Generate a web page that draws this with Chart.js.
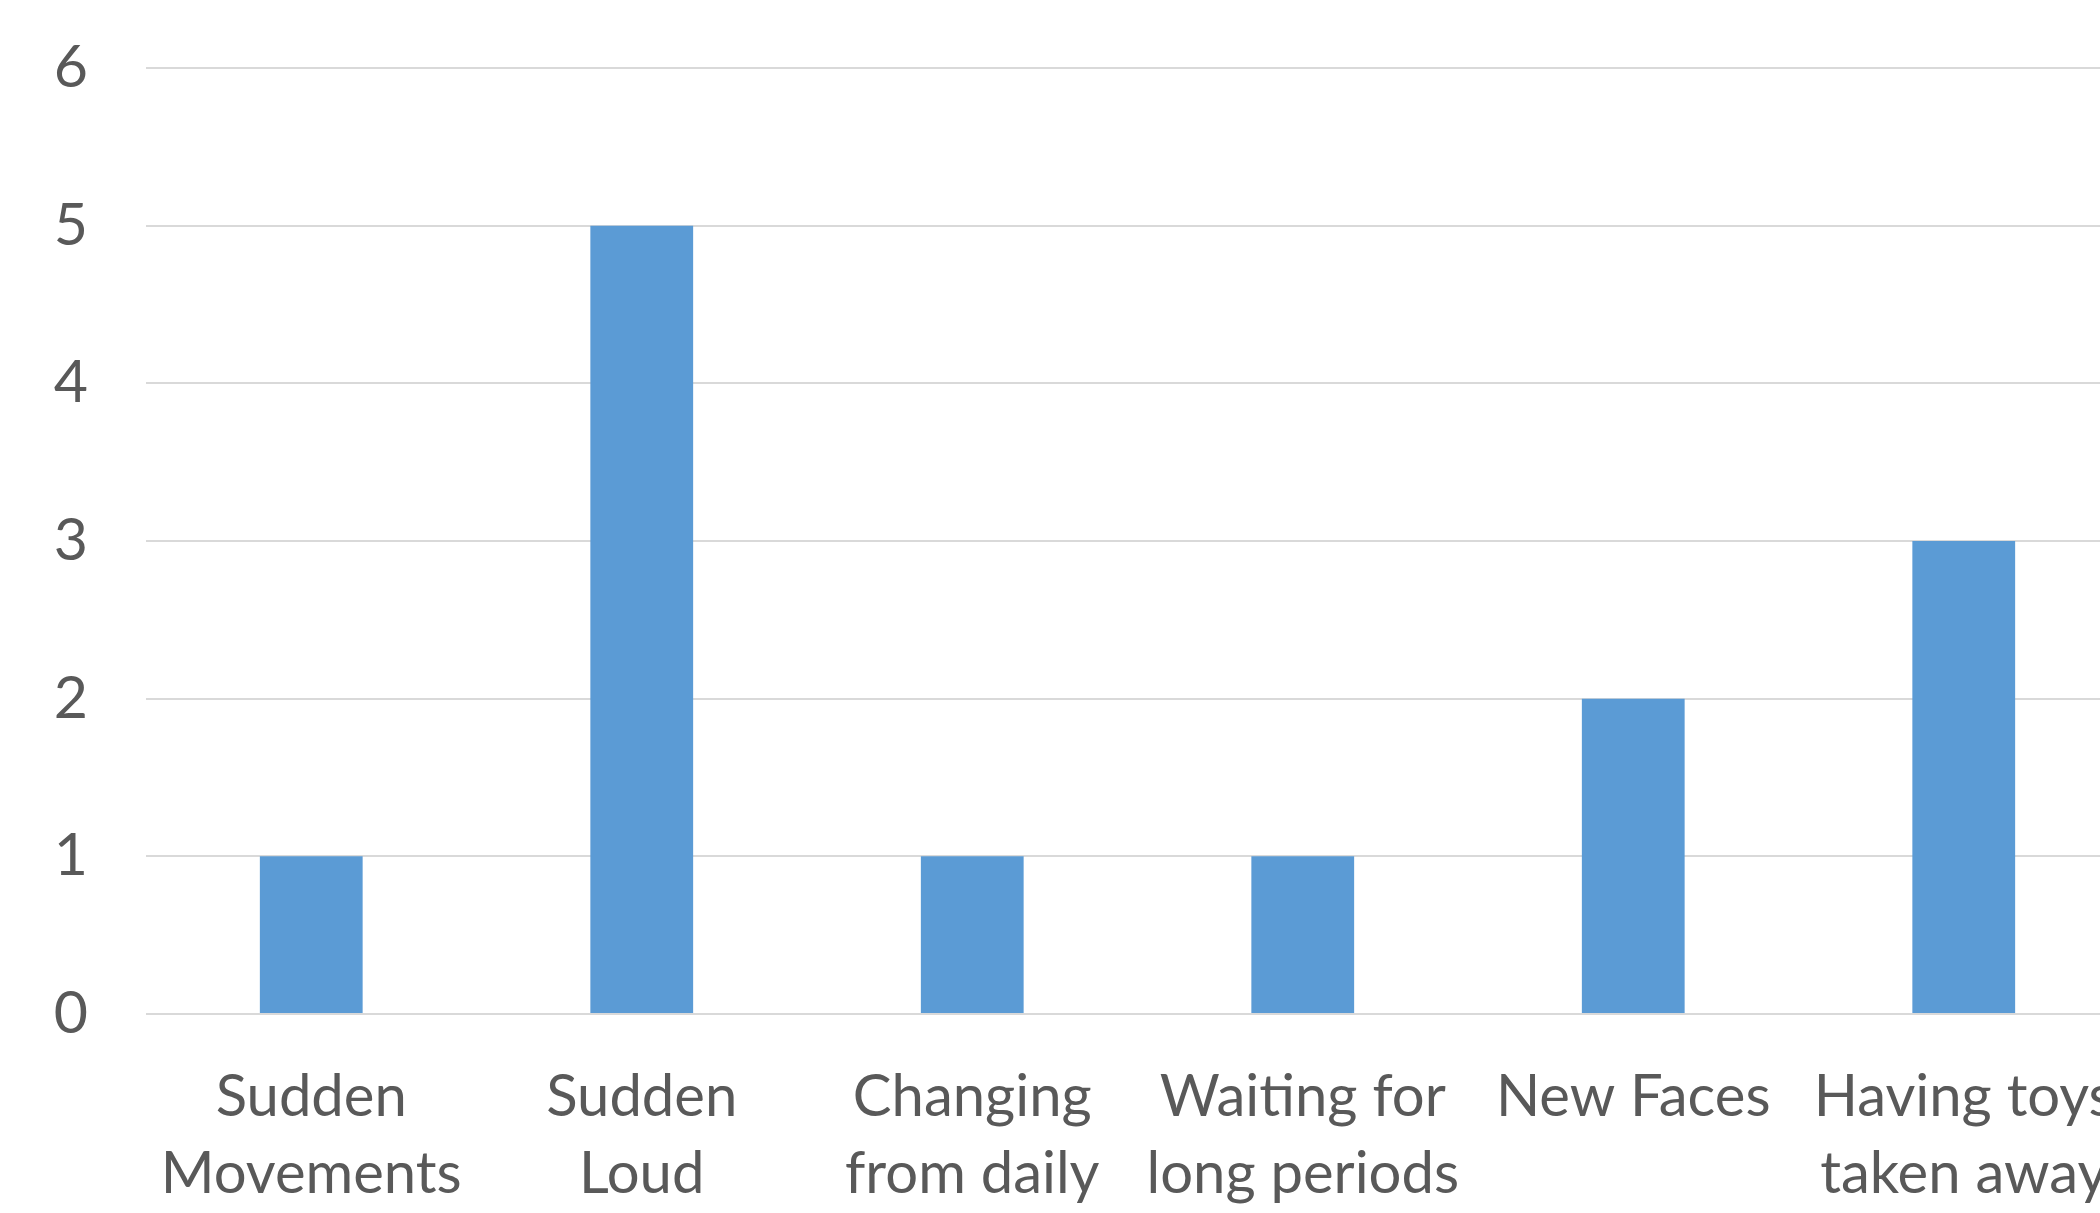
<!DOCTYPE html>
<html>
<head>
<meta charset="utf-8">
<script src="https://cdn.jsdelivr.net/npm/chart.js@4/dist/chart.umd.min.js"></script>
<style>
  html, body { margin: 0; padding: 0; background: #ffffff; overflow: hidden; }
  #chart { display: block; }
</style>
</head>
<body>
<canvas id="chart" width="2129" height="1213"></canvas>
<script>
// Stress triggers and how many responses named each one
const categories = [
  ["Sudden", "Movements"],
  ["Sudden", "Loud"],
  ["Changing", "from daily"],
  ["Waiting for", "long periods"],
  ["New Faces"],
  ["Having toys", "taken away"]
];
const counts = [1, 5, 1, 1, 2, 3];
const yTicks = [0, 1, 2, 3, 4, 5, 6];

const textColor = "#595959";
const gridColor = "#d9d9d9";
const fontFamily = "Lato, 'Open Sans', sans-serif";

new Chart(document.getElementById("chart"), {
  type: "bar",
  data: {
    labels: categories,
    datasets: [{
      data: counts,
      backgroundColor: "#5b9bd5",
      borderWidth: 0,
      categoryPercentage: 1,
      barPercentage: 0.311
    }]
  },
  options: {
    responsive: false,
    animation: false,
    layout: { padding: { top: 68, left: 0, right: 0, bottom: 0 } },
    plugins: { legend: { display: false }, tooltip: { enabled: false } },
    scales: {
      x: {
        grid: { display: false },
        border: { display: false },
        ticks: {
          color: textColor,
          font: { family: fontFamily, size: 58, lineHeight: 1.34 },
          padding: 36,
          maxRotation: 0,
          autoSkip: false
        },
        afterFit: (s) => { s.height = 199; s.paddingLeft = 0; s.paddingRight = 0; }
      },
      y: {
        min: 0,
        max: 6,
        afterBuildTicks: (s) => { s.ticks = yTicks.map(v => ({ value: v })); },
        grid: { color: gridColor, lineWidth: 2, drawTicks: false, tickLength: 0 },
        border: { display: false },
        ticks: {
          color: textColor,
          font: { family: fontFamily, size: 59 },
          padding: 58
        },
        afterFit: (s) => { s.width = 146; s.paddingTop = 0; s.paddingBottom = 0; }
      }
    }
  }
});
</script>
</body>
</html>
